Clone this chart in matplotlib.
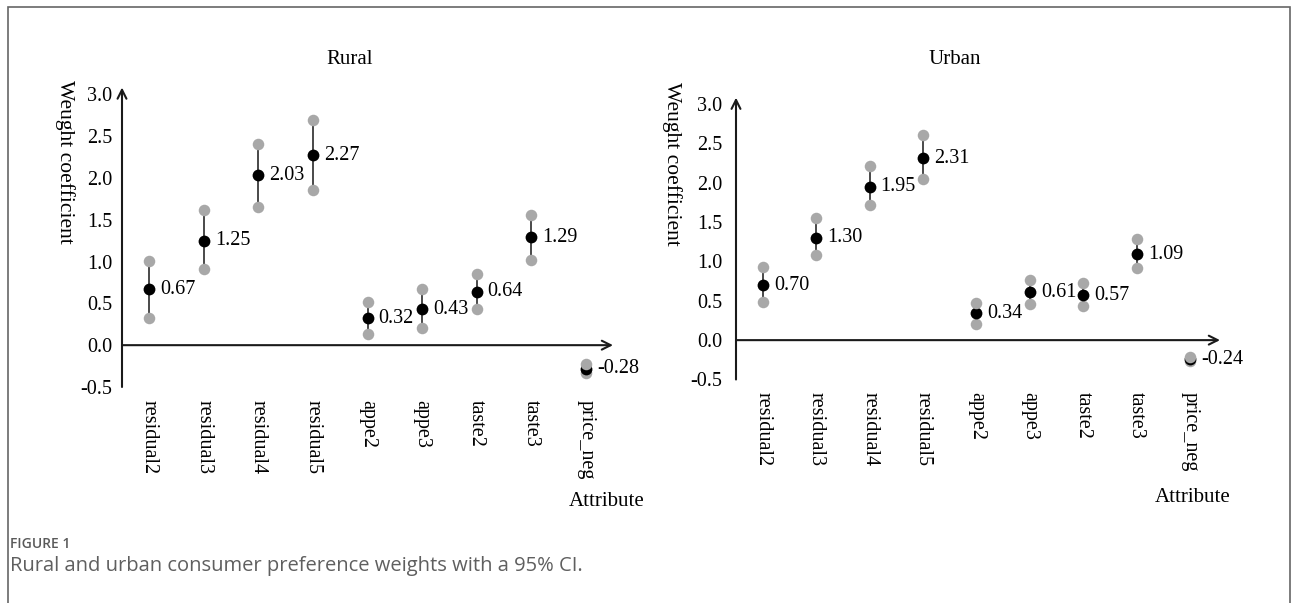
import matplotlib
matplotlib.use("Agg")
import matplotlib.pyplot as plt
from matplotlib.patches import Rectangle

attributes = ["residual2", "residual3", "residual4", "residual5",
              "appe2", "appe3", "taste2", "taste3", "price_neg"]

rural_coef = [0.67, 1.25, 2.03, 2.27, 0.32, 0.43, 0.64, 1.29, -0.28]
rural_lower = [0.32, 0.91, 1.65, 1.85, 0.13, 0.20, 0.43, 1.02, -0.33]
rural_upper = [1.01, 1.61, 2.40, 2.69, 0.52, 0.67, 0.85, 1.56, -0.22]

urban_coef = [0.70, 1.30, 1.95, 2.31, 0.34, 0.61, 0.57, 1.09, -0.24]
urban_lower = [0.48, 1.08, 1.72, 2.05, 0.21, 0.46, 0.43, 0.92, -0.26]
urban_upper = [0.93, 1.55, 2.21, 2.60, 0.47, 0.76, 0.72, 1.28, -0.21]

yticks = [-0.5, 0.0, 0.5, 1.0, 1.5, 2.0, 2.5, 3.0]

SERIF = "Liberation Serif"
W, H = 1293, 603


def draw_panel(ax, coef, lower, upper, xmax, ypad):
    x = list(range(len(attributes)))
    ax.set_xlim(-0.5, xmax)
    ax.set_ylim(-0.5, 3.05)
    for s in ax.spines.values():
        s.set_visible(False)

    # CI whiskers, then dots (lower, estimate, upper)
    ax.vlines(x, lower, upper, color="#3a3a3a", lw=1.3, zorder=1)
    ax.plot(x, lower, "o", color="#a8a8a8", ms=8.3, mec="none", zorder=2)
    ax.plot(x, coef, "o", color="black", ms=8.5, mec="none", zorder=3)
    ax.plot(x, upper, "o", color="#a8a8a8", ms=8.3, mec="none", zorder=4)

    for xi, c in zip(x, coef):
        ax.annotate(f"{c:.2f}", (xi, c), xytext=(8, 0), textcoords="offset points",
                    va="center", ha="left", fontsize=14.5, family=SERIF)

    # axes with arrows
    ax.annotate("", xy=(-0.5, 3.08), xytext=(-0.5, -0.5),
                arrowprops=dict(arrowstyle="->", lw=1.5, color="#1a1a1a",
                                mutation_scale=16, shrinkA=0, shrinkB=0),
                annotation_clip=False)
    ax.annotate("", xy=(xmax, 0), xytext=(-0.5, 0),
                arrowprops=dict(arrowstyle="->", lw=1.5, color="#1a1a1a",
                                mutation_scale=16, shrinkA=0, shrinkB=0),
                annotation_clip=False)

    ax.set_yticks(yticks)
    ax.set_yticklabels([f"{v:.1f}" for v in yticks], family=SERIF, fontsize=14.5)
    ax.set_xticks(x)
    ax.set_xticklabels(attributes, rotation=270, va="top", ha="center",
                       family=SERIF, fontsize=14.5)
    ax.tick_params(axis="x", length=0, pad=9)
    ax.tick_params(axis="y", length=0, pad=ypad)


fig = plt.figure(figsize=(W / 100, H / 100), dpi=100)

ax1 = fig.add_axes([122 / W, 1 - 387 / H, (613 - 122) / W, (387 - 90) / H])
draw_panel(ax1, rural_coef, rural_lower, rural_upper, 8.5, 7)

ax2 = fig.add_axes([736 / W, 1 - 379.5 / H, (1220 - 736) / W, (379.5 - 100) / H])
draw_panel(ax2, urban_coef, urban_lower, urban_upper, 8.56, 10)

# titles and axis names
fig.text(350 / W, 1 - 60 / H, "Rural", ha="center", va="center", family=SERIF, fontsize=15)
fig.text(955 / W, 1 - 60 / H, "Urban", ha="center", va="center", family=SERIF, fontsize=15)
fig.text(65 / W, 1 - 80 / H, "Weught coefficient", rotation=270, ha="center", va="top",
         family=SERIF, fontsize=15.5)
fig.text(672 / W, 1 - 82 / H, "Weught coefficient", rotation=270, ha="center", va="top",
         family=SERIF, fontsize=15.5)
fig.text(607 / W, 1 - 501 / H, "Attribute", ha="center", va="center", family=SERIF, fontsize=15)
fig.text(1193 / W, 1 - 497 / H, "Attribute", ha="center", va="center", family=SERIF, fontsize=15)

# caption
fig.text(10 / W, 1 - 544 / H, "FIGURE 1", ha="left", va="center", family="Open Sans",
         fontsize=10, fontweight="semibold", color="#5a5a5a")
fig.text(10 / W, 1 - 566 / H, "Rural and urban consumer preference weights with a 95% CI.",
         ha="left", va="center", family="Open Sans", fontsize=14.5, color="#5f5f5f")

# outer frame
fig.patches.append(Rectangle((8 / W, -0.1), (1290 - 8) / W, 1.1 - 7 / H,
                             transform=fig.transFigure, fill=False,
                             edgecolor="#666666", lw=1.2))

fig.savefig("out.png", dpi=100)
